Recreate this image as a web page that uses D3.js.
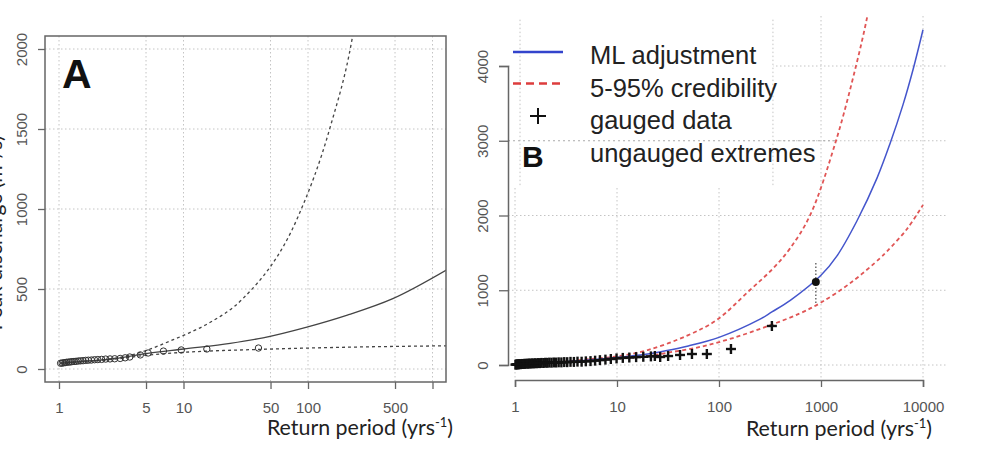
<!DOCTYPE html>
<html>
<head>
<meta charset="utf-8">
<title>Return period</title>
<script src="https://d3js.org/d3.v7.min.js"></script>
<style>
  html, body { margin: 0; padding: 0; background: white; }
  svg { display: block; }
</style>
</head>
<body>
<div id="chart"></div>
<script>
// ---- panel A data ----
const aTicksX = [1, 5, 10, 50, 100, 500, 1000];
const aTickLabelsX = ["1", "5", "10", "50", "100", "500", ""];
const aTicksY = [0, 500, 1000, 1500, 2000];
const aObsT = [1.03, 1.06, 1.09, 1.12, 1.15, 1.19, 1.23, 1.27, 1.32, 1.37, 1.43, 1.49, 1.56, 1.64, 1.72, 1.82, 1.93, 2.05, 2.2, 2.37, 2.57, 2.8, 3.1, 3.4, 3.7, 4.5, 5.2, 6.9, 9.6, 15.4, 40];
const aObsQ = [36, 37, 39, 40, 42, 43, 44, 46, 47, 48, 50, 51, 52, 54, 55, 56, 58, 59, 60, 62, 63, 64, 66, 70, 75, 88, 100, 112, 119, 125, 131];
const aFitT = [1.03, 1.5, 2, 3, 5, 10, 23.7, 43.6, 98, 207, 480, 1300];
const aFitQ = [36, 47, 54, 68, 96, 125, 160, 195, 262, 337, 440, 620];
const aUpT = [1.03, 1.5, 2, 3, 5, 7.8, 10.7, 15.4, 30, 83, 150, 226, 260];
const aUpQ = [36, 47, 54, 70, 115, 175, 220, 280, 440, 950, 1506, 2062, 2350];
const aLoT = [1.03, 1.5, 2, 3, 5, 10, 43, 200, 1300];
const aLoQ = [36, 46, 52, 64, 86, 104, 123, 136, 145];

// ---- panel B data ----
const bTicksX = [1, 10, 100, 1000, 10000];
const bTicksY = [0, 1000, 2000, 3000, 4000];
const bMlT = [1, 2, 5, 10, 20, 30, 50, 100, 250, 330, 500, 1000, 1435, 2255, 3540, 4745, 6360, 7980, 10000];
const bMlQ = [5, 30, 65, 100, 147, 190, 255, 370, 610, 710, 865, 1200, 1460, 1930, 2500, 2960, 3480, 3950, 4485];
const bHiT = [1, 3, 5, 10, 20, 50, 95, 200, 338, 497, 780, 1403, 2203, 2826, 3100];
const bHiQ = [8, 45, 75, 115, 200, 400, 602, 1000, 1290, 1560, 2000, 3000, 4000, 4645, 4950];
const bLoT = [1, 3, 5, 10, 18, 30, 65, 137, 300, 620, 1000, 2000, 3800, 4436, 6970, 10000];
const bLoQ = [3, 35, 55, 85, 110, 160, 241, 361, 520, 690, 835, 1110, 1430, 1520, 1820, 2142];
const bGaugedT = [1.01, 1.03, 1.05, 1.07, 1.09, 1.11, 1.14, 1.17, 1.2, 1.23, 1.26, 1.3, 1.34, 1.38, 1.42, 1.47, 1.52, 1.57, 1.63, 1.69, 1.75, 1.82, 1.9, 1.98, 2.07, 2.17, 2.28, 2.4, 2.53, 2.68, 2.85, 3.04, 3.25, 3.5, 3.78, 4.1, 4.5, 4.95, 5.5, 6.1, 6.8, 7.7, 8.7, 9.9, 11.4, 13.2, 15.4, 18.1, 21.5, 23.5, 26.5, 31.7, 41.5, 54.3, 76, 131, 330];
const bGaugedQ = [5, 8, 7, 10, 9, 12, 11, 14, 13, 16, 15, 18, 17, 20, 19, 22, 21, 24, 23, 26, 25, 28, 27, 30, 29, 32, 31, 34, 33, 36, 35, 39, 38, 42, 41, 45, 44, 49, 52, 58, 65, 72, 80, 88, 95, 100, 105, 110, 115, 120, 107, 120, 134, 147, 147, 214, 522];
const bUngT = [890];
const bUngQ = [1110];
const bUngLo = [830];
const bUngHi = [1365];
const legendLabels = ["ML adjustment", "5-95% credibility", "gauged data", "ungauged extremes"];

const W = 1006, H = 451;
const tickFont = "'Liberation Sans', Arial, sans-serif";
const titleFont = "Lato, 'Open Sans', sans-serif";
const gridColor = "#c4c4c4";

const svg = d3.select("#chart").append("svg")
    .attr("width", W)
    .attr("height", H);

svg.append("rect").attr("width", W).attr("height", H).attr("fill", "white");

const defs = svg.append("defs");
defs.append("clipPath").attr("id", "clipA")
    .append("rect").attr("x", 45).attr("y", 36).attr("width", 401).attr("height", 346);
defs.append("clipPath").attr("id", "clipB")
    .append("rect").attr("x", 508).attr("y", 16).attr("width", 442).attr("height", 366);

const zip = (a, b) => a.map((v, i) => [v, b[i]]);

// ================= PANEL A =================
const xA = d3.scaleLog().domain([1, 1000]).range([59, 432.5]);
const yA = d3.scaleLinear().domain([0, 2000]).range([369, 49]);
const lineA = d3.line().x(d => xA(d[0])).y(d => yA(d[1])).curve(d3.curveMonotoneX);

const gA = svg.append("g");
const plotA = gA.append("g").attr("clip-path", "url(#clipA)");

// grid
plotA.selectAll(".gvx").data(aTicksX).enter().append("line")
    .attr("x1", d => xA(d)).attr("x2", d => xA(d))
    .attr("y1", 36).attr("y2", 382)
    .attr("stroke", gridColor).attr("stroke-dasharray", "1.5,2.5");
plotA.selectAll(".gvy").data(aTicksY).enter().append("line")
    .attr("x1", 45).attr("x2", 446)
    .attr("y1", d => yA(d)).attr("y2", d => yA(d))
    .attr("stroke", gridColor).attr("stroke-dasharray", "1.5,2.5");

// curves
plotA.append("path").datum(zip(aUpT, aUpQ)).attr("d", lineA)
    .attr("fill", "none").attr("stroke", "#444").attr("stroke-width", 1.3).attr("stroke-dasharray", "3,3");
plotA.append("path").datum(zip(aLoT, aLoQ)).attr("d", lineA)
    .attr("fill", "none").attr("stroke", "#444").attr("stroke-width", 1.3).attr("stroke-dasharray", "3,3");
plotA.append("path").datum(zip(aFitT, aFitQ)).attr("d", lineA)
    .attr("fill", "none").attr("stroke", "#444").attr("stroke-width", 1.3);

// observations
plotA.selectAll(".obs").data(zip(aObsT, aObsQ)).enter().append("circle")
    .attr("cx", d => xA(d[0])).attr("cy", d => yA(d[1])).attr("r", 3.2)
    .attr("fill", "none").attr("stroke", "#333").attr("stroke-width", 1);

// box
gA.append("rect").attr("x", 45).attr("y", 36).attr("width", 401).attr("height", 346)
    .attr("fill", "none").attr("stroke", "#666").attr("stroke-width", 1.5);

// axes
const axAx = gA.append("g").attr("transform", "translate(0,382)")
    .call(d3.axisBottom(xA).tickValues(aTicksX).tickSize(7).tickSizeOuter(0)
        .tickFormat((d, i) => aTickLabelsX[i]));
axAx.select(".domain").remove();
axAx.selectAll(".tick line").attr("stroke", "#666").attr("stroke-width", 1.3);
axAx.selectAll(".tick text").attr("y", 31).attr("dy", 0)
    .style("font-family", tickFont).style("font-size", "15px").attr("fill", "#555");

const axAy = gA.append("g").attr("transform", "translate(45,0)")
    .call(d3.axisLeft(yA).tickValues(aTicksY).tickSize(7).tickSizeOuter(0)
        .tickFormat(d3.format("d")));
axAy.select(".domain").remove();
axAy.selectAll(".tick line").attr("stroke", "#666").attr("stroke-width", 1.3);
axAy.selectAll(".tick text")
    .attr("transform", "rotate(-90)").attr("x", 0).attr("y", -18).attr("dy", 0)
    .attr("text-anchor", "middle")
    .style("font-family", tickFont).style("font-size", "15px").attr("fill", "#555");

// titles
const titleA = gA.append("text").attr("x", 453).attr("y", 435).attr("text-anchor", "end")
    .style("font-family", titleFont).style("font-size", "21.4px").attr("fill", "#222");
titleA.append("tspan").text("Return period (yrs");
titleA.append("tspan").attr("dy", -8).style("font-size", "13px").text("-1");
titleA.append("tspan").attr("dy", 8).text(")");

// y title sits mostly outside the picture, as in the source figure
gA.append("text").attr("transform", "translate(2,233) rotate(-90)").attr("text-anchor", "middle")
    .style("font-family", titleFont).style("font-size", "21px").attr("fill", "#222")
    .text("Peak discharge (m³/s)");

gA.append("text").attr("x", 62).attr("y", 88)
    .style("font-family", tickFont).style("font-size", "41px").style("font-weight", "bold")
    .attr("fill", "#111").text("A");

// ================= PANEL B =================
const xB = d3.scaleLog().domain([1, 10000]).range([515, 923]);
const yB = d3.scaleLinear().domain([0, 4000]).range([365, 66]);
const lineB = d3.line().x(d => xB(d[0])).y(d => yB(d[1])).curve(d3.curveCatmullRom.alpha(0.5));

const gB = svg.append("g");
const plotB = gB.append("g").attr("clip-path", "url(#clipB)");

plotB.selectAll(".gvx").data(bTicksX).enter().append("line")
    .attr("x1", d => xB(d)).attr("x2", d => xB(d))
    .attr("y1", 16).attr("y2", 380)
    .attr("stroke", gridColor).attr("stroke-dasharray", "1.5,2.5");
plotB.selectAll(".gvy").data(bTicksY).enter().append("line")
    .attr("x1", 508).attr("x2", 947)
    .attr("y1", d => yB(d)).attr("y2", d => yB(d))
    .attr("stroke", gridColor).attr("stroke-dasharray", "1.5,2.5");

// legend background (covers part of the grid) and its own grid pieces
plotB.append("rect").attr("x", 511).attr("y", 16).attr("width", 262).attr("height", 172).attr("fill", "white");
plotB.selectAll(".lgv").data([1.12, 338]).enter().append("line")
    .attr("x1", d => xB(d)).attr("x2", d => xB(d))
    .attr("y1", yB(4620)).attr("y2", yB(2390))
    .attr("stroke", gridColor).attr("stroke-dasharray", "1.5,2.5");
plotB.append("line")
    .attr("x1", 503).attr("x2", 835).attr("y1", yB(3000)).attr("y2", yB(3000))
    .attr("stroke", "#aaa").attr("stroke-dasharray", "2,3");

// curves
plotB.append("path").datum(zip(bHiT, bHiQ)).attr("d", lineB)
    .attr("fill", "none").attr("stroke", "#e05555").attr("stroke-width", 1.8).attr("stroke-dasharray", "4,3");
plotB.append("path").datum(zip(bLoT, bLoQ)).attr("d", lineB)
    .attr("fill", "none").attr("stroke", "#e05555").attr("stroke-width", 1.8).attr("stroke-dasharray", "4,3");
plotB.append("path").datum(zip(bMlT, bMlQ)).attr("d", lineB)
    .attr("fill", "none").attr("stroke", "#4455cc").attr("stroke-width", 1.5);

// gauged data
const plus = plotB.selectAll(".gauged").data(zip(bGaugedT, bGaugedQ)).enter().append("g")
    .attr("transform", d => `translate(${xB(d[0])},${yB(d[1])})`);
plus.append("line").attr("x1", -5).attr("x2", 5).attr("stroke", "#111").attr("stroke-width", 2.4);
plus.append("line").attr("y1", -5).attr("y2", 5).attr("stroke", "#111").attr("stroke-width", 2.4);

// ungauged extreme with credibility bar
plotB.selectAll(".ungBar").data(bUngT).enter().append("line")
    .attr("x1", d => xB(d)).attr("x2", d => xB(d))
    .attr("y1", (d, i) => yB(bUngHi[i])).attr("y2", (d, i) => yB(bUngLo[i]))
    .attr("stroke", "#555").attr("stroke-width", 1.3).attr("stroke-dasharray", "1.5,2");
plotB.selectAll(".ung").data(bUngT).enter().append("circle")
    .attr("cx", d => xB(d)).attr("cy", (d, i) => yB(bUngQ[i])).attr("r", 4)
    .attr("fill", "#111");

// axes
const axBx = gB.append("g").attr("transform", "translate(0,380)")
    .call(d3.axisBottom(xB).tickValues(bTicksX).tickSize(7).tickSizeOuter(7)
        .tickFormat(d3.format("d")));
axBx.select(".domain").attr("stroke", "#666").attr("stroke-width", 1.5);
axBx.selectAll(".tick line").attr("stroke", "#666").attr("stroke-width", 1.3);
axBx.selectAll(".tick text").attr("y", 32).attr("dy", 0)
    .style("font-family", tickFont).style("font-size", "15px").attr("fill", "#555");

const axBy = gB.append("g").attr("transform", "translate(508,0)")
    .call(d3.axisLeft(yB).tickValues(bTicksY).tickSize(9).tickSizeOuter(9)
        .tickFormat(d3.format("d")));
axBy.select(".domain").attr("stroke", "#666").attr("stroke-width", 1.5);
axBy.selectAll(".tick line").attr("stroke", "#666").attr("stroke-width", 1.3);
axBy.selectAll(".tick text")
    .attr("transform", "rotate(-90)").attr("x", 0).attr("y", -20).attr("dy", 0)
    .attr("text-anchor", "middle")
    .style("font-family", tickFont).style("font-size", "15px").attr("fill", "#555");

const titleB = gB.append("text").attr("x", 932).attr("y", 436).attr("text-anchor", "end")
    .style("font-family", titleFont).style("font-size", "21.4px").attr("fill", "#222");
titleB.append("tspan").text("Return period (yrs");
titleB.append("tspan").attr("dy", -8).style("font-size", "13px").text("-1");
titleB.append("tspan").attr("dy", 8).text(")");

// legend
const legend = gB.append("g");
const rowY = i => 56 + i * 32.5;
legend.append("line").attr("x1", 513).attr("x2", 563).attr("y1", rowY(0) - 4).attr("y2", rowY(0) - 4)
    .attr("stroke", "#3344cc").attr("stroke-width", 2.5);
legend.append("line").attr("x1", 513).attr("x2", 563).attr("y1", rowY(1) - 5).attr("y2", rowY(1) - 5)
    .attr("stroke", "#dd3d3d").attr("stroke-width", 2.5).attr("stroke-dasharray", "8,5");
legend.append("line").attr("x1", 530).attr("x2", 546).attr("y1", rowY(2) - 5).attr("y2", rowY(2) - 5)
    .attr("stroke", "#111").attr("stroke-width", 2);
legend.append("line").attr("x1", 538).attr("x2", 538).attr("y1", rowY(2) - 13).attr("y2", rowY(2) + 3)
    .attr("stroke", "#111").attr("stroke-width", 2);
legend.append("text").attr("x", 522).attr("y", 167)
    .style("font-family", tickFont).style("font-size", "30px").style("font-weight", "bold")
    .attr("fill", "#111").text("B");
legend.selectAll(".lt").data(legendLabels).enter().append("text")
    .attr("x", 590).attr("y", (d, i) => rowY(i) + 8)
    .style("font-family", tickFont).style("font-size", "25.5px").attr("fill", "#222")
    .text(d => d);
</script>
</body>
</html>
